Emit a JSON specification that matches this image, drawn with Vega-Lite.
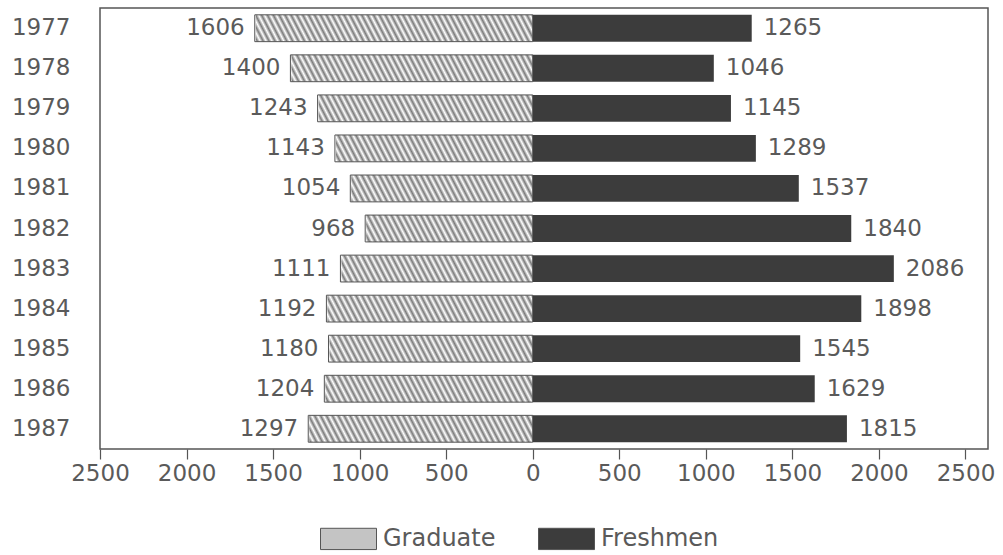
{
  "$schema": "https://vega.github.io/schema/vega-lite/v6.json",
  "width": 888,
  "height": 441,
  "autosize": "none",
  "padding": {"left": 100, "top": 8, "right": 15, "bottom": 106},
  "config": {
    "view": {"stroke": "#555555", "strokeWidth": 1.5},
    "font": "DejaVu Sans",
    "axis": {"labelFont": "DejaVu Sans", "labelColor": "#5a5a5a", "grid": false}
  },
  "data": {
    "values": [
      {"year": "1977", "grad": 1606, "fresh": 1265},
      {"year": "1978", "grad": 1400, "fresh": 1046},
      {"year": "1979", "grad": 1243, "fresh": 1145},
      {"year": "1980", "grad": 1143, "fresh": 1289},
      {"year": "1981", "grad": 1054, "fresh": 1537},
      {"year": "1982", "grad": 968, "fresh": 1840},
      {"year": "1983", "grad": 1111, "fresh": 2086},
      {"year": "1984", "grad": 1192, "fresh": 1898},
      {"year": "1985", "grad": 1180, "fresh": 1545},
      {"year": "1986", "grad": 1204, "fresh": 1629},
      {"year": "1987", "grad": 1297, "fresh": 1815}
    ]
  },
  "transform": [{"calculate": "-datum.grad", "as": "gneg"}, {"calculate": "-1700", "as": "hstart"}, {"calculate": "-1800", "as": "mstart"}, {"calculate": "0", "as": "zero"}],
  "encoding": {
    "y": {
      "field": "year", "type": "ordinal", "title": null,
      "scale": {"paddingInner": 0.33, "paddingOuter": 0.17},
      "axis": {"domain": false, "ticks": false, "labelFontSize": 23, "labelPadding": 30, "labelColor": "#5a5a5a"}
    }
  },
  "layer": [
    {
      "mark": {"type": "bar", "strokeWidth": 0,
        "fill": {"gradient": "linear", "x1": 0, "y1": 0.047, "x2": 1, "y2": 0, "stops": [
              {"offset": 0.00, "color": "#7a7a7a"}, {"offset": 0.01, "color": "#ffffff"},
              {"offset": 0.02, "color": "#7a7a7a"}, {"offset": 0.03, "color": "#ffffff"},
              {"offset": 0.04, "color": "#7a7a7a"}, {"offset": 0.05, "color": "#ffffff"},
              {"offset": 0.06, "color": "#7a7a7a"}, {"offset": 0.07, "color": "#ffffff"},
              {"offset": 0.08, "color": "#7a7a7a"}, {"offset": 0.09, "color": "#ffffff"},
              {"offset": 0.10, "color": "#7a7a7a"}, {"offset": 0.11, "color": "#ffffff"},
              {"offset": 0.12, "color": "#7a7a7a"}, {"offset": 0.13, "color": "#ffffff"},
              {"offset": 0.14, "color": "#7a7a7a"}, {"offset": 0.15, "color": "#ffffff"},
              {"offset": 0.16, "color": "#7a7a7a"}, {"offset": 0.17, "color": "#ffffff"},
              {"offset": 0.18, "color": "#7a7a7a"}, {"offset": 0.19, "color": "#ffffff"},
              {"offset": 0.20, "color": "#7a7a7a"}, {"offset": 0.21, "color": "#ffffff"},
              {"offset": 0.22, "color": "#7a7a7a"}, {"offset": 0.23, "color": "#ffffff"},
              {"offset": 0.24, "color": "#7a7a7a"}, {"offset": 0.25, "color": "#ffffff"},
              {"offset": 0.26, "color": "#7a7a7a"}, {"offset": 0.27, "color": "#ffffff"},
              {"offset": 0.28, "color": "#7a7a7a"}, {"offset": 0.29, "color": "#ffffff"},
              {"offset": 0.30, "color": "#7a7a7a"}, {"offset": 0.31, "color": "#ffffff"},
              {"offset": 0.32, "color": "#7a7a7a"}, {"offset": 0.33, "color": "#ffffff"},
              {"offset": 0.34, "color": "#7a7a7a"}, {"offset": 0.35, "color": "#ffffff"},
              {"offset": 0.36, "color": "#7a7a7a"}, {"offset": 0.37, "color": "#ffffff"},
              {"offset": 0.38, "color": "#7a7a7a"}, {"offset": 0.39, "color": "#ffffff"},
              {"offset": 0.40, "color": "#7a7a7a"}, {"offset": 0.41, "color": "#ffffff"},
              {"offset": 0.42, "color": "#7a7a7a"}, {"offset": 0.43, "color": "#ffffff"},
              {"offset": 0.44, "color": "#7a7a7a"}, {"offset": 0.45, "color": "#ffffff"},
              {"offset": 0.46, "color": "#7a7a7a"}, {"offset": 0.47, "color": "#ffffff"},
              {"offset": 0.48, "color": "#7a7a7a"}, {"offset": 0.49, "color": "#ffffff"},
              {"offset": 0.50, "color": "#7a7a7a"}, {"offset": 0.51, "color": "#ffffff"},
              {"offset": 0.52, "color": "#7a7a7a"}, {"offset": 0.53, "color": "#ffffff"},
              {"offset": 0.54, "color": "#7a7a7a"}, {"offset": 0.55, "color": "#ffffff"},
              {"offset": 0.56, "color": "#7a7a7a"}, {"offset": 0.57, "color": "#ffffff"},
              {"offset": 0.58, "color": "#7a7a7a"}, {"offset": 0.59, "color": "#ffffff"},
              {"offset": 0.60, "color": "#7a7a7a"}, {"offset": 0.61, "color": "#ffffff"},
              {"offset": 0.62, "color": "#7a7a7a"}, {"offset": 0.63, "color": "#ffffff"},
              {"offset": 0.64, "color": "#7a7a7a"}, {"offset": 0.65, "color": "#ffffff"},
              {"offset": 0.66, "color": "#7a7a7a"}, {"offset": 0.67, "color": "#ffffff"},
              {"offset": 0.68, "color": "#7a7a7a"}, {"offset": 0.69, "color": "#ffffff"},
              {"offset": 0.70, "color": "#7a7a7a"}, {"offset": 0.71, "color": "#ffffff"},
              {"offset": 0.72, "color": "#7a7a7a"}, {"offset": 0.73, "color": "#ffffff"},
              {"offset": 0.74, "color": "#7a7a7a"}, {"offset": 0.75, "color": "#ffffff"},
              {"offset": 0.76, "color": "#7a7a7a"}, {"offset": 0.77, "color": "#ffffff"},
              {"offset": 0.78, "color": "#7a7a7a"}, {"offset": 0.79, "color": "#ffffff"},
              {"offset": 0.80, "color": "#7a7a7a"}, {"offset": 0.81, "color": "#ffffff"},
              {"offset": 0.82, "color": "#7a7a7a"}, {"offset": 0.83, "color": "#ffffff"},
              {"offset": 0.84, "color": "#7a7a7a"}, {"offset": 0.85, "color": "#ffffff"},
              {"offset": 0.86, "color": "#7a7a7a"}, {"offset": 0.87, "color": "#ffffff"},
              {"offset": 0.88, "color": "#7a7a7a"}, {"offset": 0.89, "color": "#ffffff"},
              {"offset": 0.90, "color": "#7a7a7a"}, {"offset": 0.91, "color": "#ffffff"},
              {"offset": 0.92, "color": "#7a7a7a"}, {"offset": 0.93, "color": "#ffffff"},
              {"offset": 0.94, "color": "#7a7a7a"}, {"offset": 0.95, "color": "#ffffff"},
              {"offset": 0.96, "color": "#7a7a7a"}, {"offset": 0.97, "color": "#ffffff"},
              {"offset": 0.98, "color": "#7a7a7a"}, {"offset": 0.99, "color": "#ffffff"},
              {"offset": 1.00, "color": "#7a7a7a"}
            ]}},
      "encoding": {
        "x": {"field": "hstart", "type": "quantitative",
          "scale": {"domain": [-2500, 2630], "nice": false, "zero": false},
          "title": null,
          "axis": {"values": [-2500, -2000, -1500, -1000, -500, 0, 500, 1000, 1500, 2000, 2500],
            "labelExpr": "abs(datum.value)", "labelOverlap": false, "labelBound": false, "labelFlush": false,
            "domain": false, "tickSize": 10, "tickColor": "#555555",
            "tickWidth": 1.2, "labelFontSize": 23, "labelPadding": 3, "labelColor": "#5a5a5a"}},
        "x2": {"field": "zero"}
      }
    },
    {
      "mark": {"type": "bar", "fill": "#ffffff", "stroke": "#ffffff", "strokeWidth": 2},
      "encoding": {
        "x": {"field": "mstart", "type": "quantitative"},
        "x2": {"field": "gneg"}
      }
    },
    {
      "mark": {"type": "bar", "fillOpacity": 0, "stroke": "#555555", "strokeWidth": 1},
      "encoding": {
        "x": {"field": "gneg", "type": "quantitative"},
        "x2": {"field": "zero"}
      }
    },
    {
      "mark": {"type": "bar", "strokeWidth": 0},
      "encoding": {
        "x": {"field": "zero", "type": "quantitative"},
        "x2": {"field": "fresh"},
        "color": {"datum": "Freshmen", "type": "nominal",
          "scale": {"domain": ["Graduate", "Freshmen"], "range": ["#c4c4c4", "#3c3c3c"]},
          "legend": {
            "orient": "none", "legendX": 220, "legendY": 502, "direction": "horizontal", "title": null,
            "values": ["Graduate", "Freshmen"],
            "symbolType": "M-1,-0.38H1V0.38H-1Z", "symbolSize": 3136, "symbolStrokeColor": "#555555",
            "symbolStrokeWidth": 1, "labelFontSize": 24, "labelColor": "#5a5a5a", "labelFont": "DejaVu Sans",
            "columnPadding": 40, "labelOffset": 6, "padding": 0, "symbolOpacity": 1
          }}
      }
    },
    {
      "mark": {"type": "text", "align": "right", "baseline": "middle", "dx": -10, "fontSize": 23, "fill": "#5a5a5a", "font": "DejaVu Sans"},
      "encoding": {
        "x": {"field": "gneg", "type": "quantitative"},
        "text": {"field": "grad", "type": "quantitative"}
      }
    },
    {
      "mark": {"type": "text", "align": "left", "baseline": "middle", "dx": 12, "fontSize": 23, "fill": "#5a5a5a", "font": "DejaVu Sans"},
      "encoding": {
        "x": {"field": "fresh", "type": "quantitative"},
        "text": {"field": "fresh", "type": "quantitative"}
      }
    }
  ]
}
